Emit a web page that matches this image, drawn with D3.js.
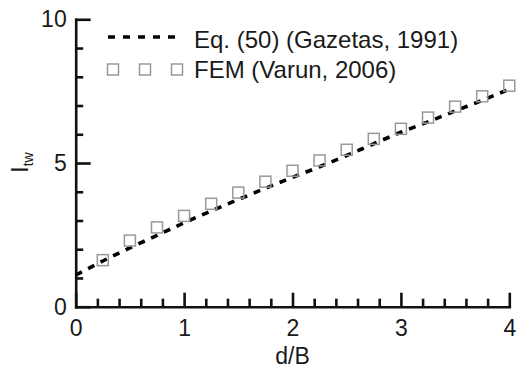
<!DOCTYPE html>
<html>
<head>
<meta charset="utf-8">
<script src="https://cdn.jsdelivr.net/npm/d3@7"></script>
<style>
  html, body { margin: 0; padding: 0; background: #fff; }
  svg { display: block; }
  text { font-family: "Liberation Sans", Arial, Helvetica, sans-serif; fill: #1a1a1a; }
</style>
</head>
<body>
<svg id="chart" width="518" height="371"></svg>
<script>
// Normalised embedment depth d/B
const dOverB = [0, 0.25, 0.5, 0.75, 1, 1.25, 1.5, 1.75, 2, 2.25, 2.5, 2.75, 3, 3.25, 3.5, 3.75, 4];
// Eq. (50), Gazetas (1991)
const gazetasItw = [1.10, 1.59, 2.05, 2.48, 2.92, 3.33, 3.73, 4.12, 4.50, 4.87, 5.26, 5.67, 6.07, 6.43, 6.81, 7.18, 7.57];
// FEM results, Varun (2006)
const femDOverB = [0.25, 0.5, 0.75, 1, 1.25, 1.5, 1.75, 2, 2.25, 2.5, 2.75, 3, 3.25, 3.5, 3.75, 4];
const femItw = [1.62, 2.30, 2.76, 3.16, 3.58, 3.97, 4.35, 4.73, 5.09, 5.46, 5.84, 6.19, 6.58, 6.96, 7.32, 7.69];

const xTicks = [0, 1, 2, 3, 4];
const yTicks = [0, 5, 10];
const legendLabels = ["Eq. (50) (Gazetas, 1991)", "FEM (Varun, 2006)"];

const svg = d3.select("#chart");
const x = d3.scaleLinear().domain([0, 4]).range([75.7, 509.3]);
const y = d3.scaleLinear().domain([0, 10]).range([306.7, 19.3]);

const axisW = 2.6;
const fontSize = 23;

// minor ticks
const xMinor = d3.range(0, 4.0001, 0.2).filter(v => Math.abs(v - Math.round(v)) > 1e-6);
const yMinor = d3.range(0, 10.0001, 1).filter(v => v % 5 !== 0);

svg.append("g")
  .attr("transform", `translate(0,${y(0)})`)
  .call(d3.axisBottom(x).tickValues(xMinor).tickSize(-8).tickSizeOuter(0).tickFormat(""))
  .call(g => g.select(".domain").remove())
  .call(g => g.selectAll("line").attr("stroke", "#111").attr("stroke-width", axisW));

svg.append("g")
  .attr("transform", `translate(${x(0)},0)`)
  .call(d3.axisLeft(y).tickValues(yMinor).tickSize(-7.5).tickSizeOuter(0).tickFormat(""))
  .call(g => g.select(".domain").remove())
  .call(g => g.selectAll("line").attr("stroke", "#111").attr("stroke-width", axisW));

const xAxis = svg.append("g")
  .attr("transform", `translate(0,${y(0)})`)
  .call(d3.axisBottom(x).tickValues(xTicks).tickSize(-14).tickSizeOuter(0).tickPadding(13).tickFormat(d3.format("d")));

const yAxis = svg.append("g")
  .attr("transform", `translate(${x(0)},0)`)
  .call(d3.axisLeft(y).tickValues(yTicks).tickSize(-15).tickSizeOuter(0).tickPadding(9).tickFormat(d3.format("d")));

[xAxis, yAxis].forEach(g => {
  g.select(".domain").attr("stroke", "#111").attr("stroke-width", axisW).attr("stroke-linecap", "square");
  g.selectAll(".tick line").attr("stroke", "#111").attr("stroke-width", axisW);
  g.selectAll(".tick text").attr("font-size", fontSize).attr("fill", "#1a1a1a")
    .attr("font-family", "'Liberation Sans', Arial, Helvetica, sans-serif");
});

// Axis titles
svg.append("text")
  .attr("x", x(2)).attr("y", 364)
  .attr("text-anchor", "middle")
  .attr("font-size", fontSize)
  .text("d/B");

const yTitle = svg.append("text")
  .attr("transform", `translate(28,162.5) rotate(-90)`)
  .attr("text-anchor", "middle")
  .attr("font-size", fontSize);
yTitle.append("tspan").text("I");
yTitle.append("tspan").attr("font-size", 14).attr("dy", 5).text("tw");

// Eq. (50) curve
const line = d3.line()
  .x((d, i) => x(dOverB[i]))
  .y(d => y(d))
  .curve(d3.curveMonotoneX);

svg.append("path")
  .datum(gazetasItw)
  .attr("d", line)
  .attr("fill", "none")
  .attr("stroke", "#000")
  .attr("stroke-width", 3.6)
  .attr("stroke-dasharray", "7,7");

// FEM squares
const sq = 11;
svg.append("g").selectAll("rect")
  .data(femItw)
  .join("rect")
  .attr("x", (d, i) => x(femDOverB[i]) - sq / 2)
  .attr("y", d => y(d) - sq / 2)
  .attr("width", sq).attr("height", sq)
  .attr("fill", "none")
  .attr("stroke", "#999")
  .attr("stroke-width", 1.5);

// Legend
const legend = svg.append("g");
legend.append("line")
  .attr("x1", 108).attr("x2", 175).attr("y1", 37).attr("y2", 37)
  .attr("stroke", "#000").attr("stroke-width", 3.6)
  .attr("stroke-dasharray", "7,8");
legend.selectAll("rect")
  .data([113, 145, 177])
  .join("rect")
  .attr("x", d => d - sq / 2).attr("y", 69.5 - sq / 2)
  .attr("width", sq).attr("height", sq)
  .attr("fill", "none").attr("stroke", "#999").attr("stroke-width", 1.5);
legend.selectAll("text")
  .data(legendLabels)
  .join("text")
  .attr("x", 194)
  .attr("y", (d, i) => 47.5 + i * 30.5)
  .attr("font-size", 24)
  .text(d => d);
</script>
</body>
</html>
